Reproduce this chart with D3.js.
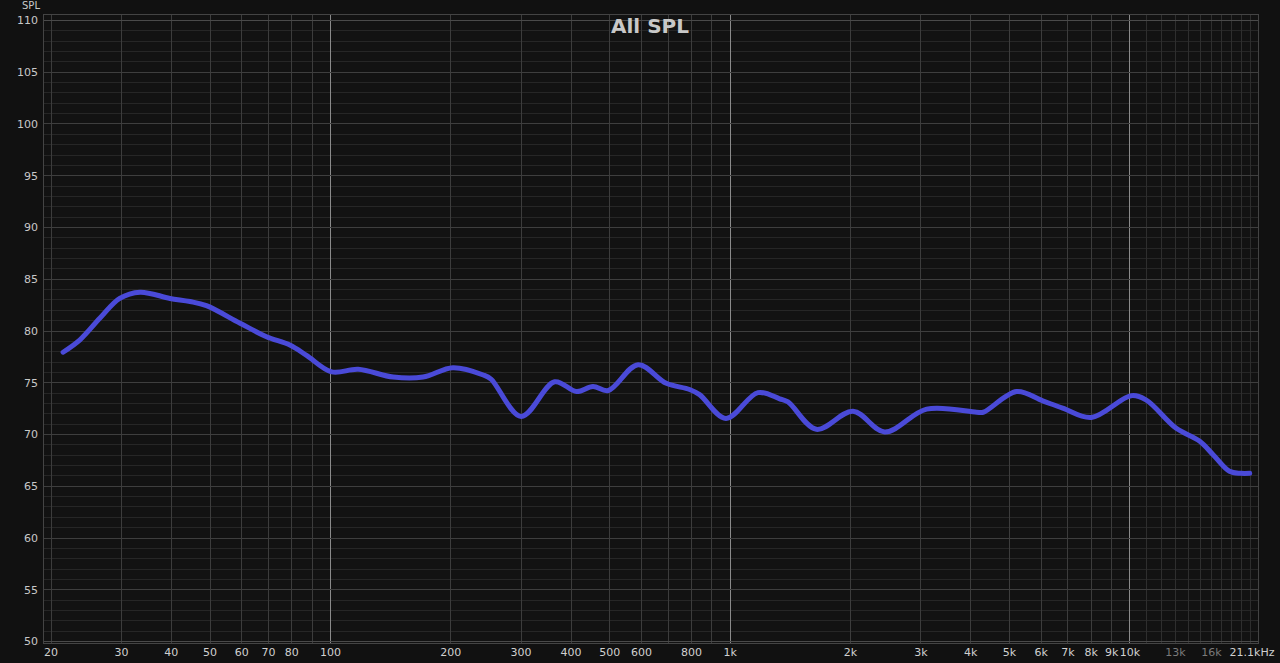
<!DOCTYPE html>
<html><head><meta charset="utf-8">
<script src="https://cdn.jsdelivr.net/npm/d3@7"></script>
<style>
html,body{margin:0;padding:0;background:#111111;}
svg{display:block;}
text{font-family:"DejaVu Sans","Open Sans",sans-serif;}
</style></head>
<body>
<script>
// Data
const freqs = [21.5, 23.7, 26.6, 29.8, 33.5, 39.8, 44.7, 49.1, 59.6, 69.4, 79.4, 87.4, 101, 117.7, 144, 171, 203, 242, 253, 301, 365, 414, 455, 497, 590, 694, 794, 841, 979, 1177, 1334, 1400, 1648, 2035, 2443, 3110, 4150, 4310, 5220, 6070, 6810, 8030, 10100, 11000, 13100, 15000, 16200, 17800, 19000, 20000];
const spl   = [77.9, 79.1, 81.2, 83.1, 83.7, 83.1, 82.8, 82.4, 80.7, 79.4, 78.6, 77.6, 76.0, 76.25, 75.5, 75.5, 76.4, 75.7, 75.3, 71.7, 75.05, 74.1, 74.6, 74.2, 76.7, 74.9, 74.3, 73.8, 71.5, 74.0, 73.4, 73.1, 70.45, 72.2, 70.2, 72.4, 72.1, 72.1, 74.1, 73.2, 72.5, 71.6, 73.7, 73.3, 70.55, 69.3, 68.0, 66.4, 66.2, 66.2];
const yTicks = [50, 55, 60, 65, 70, 75, 80, 85, 90, 95, 100, 105, 110];
const xTickVals = [20, 30, 40, 50, 60, 70, 80, 100, 200, 300, 400, 500, 600, 800, 1000, 2000, 3000, 4000, 5000, 6000, 7000, 8000, 9000, 10000, 13000, 16000, 21100];
const xTickText = ["20","30","40","50","60","70","80","100","200","300","400","500","600","800","1k","2k","3k","4k","5k","6k","7k","8k","9k","10k","13k","16k","21.1kHz"];
const dimTicks = ["13k","16k"];
const title = "All SPL";
const yUnit = "SPL";

const W = 1280, H = 663;
const plot = {l: 43, r: 1258, t: 14, b: 643};

const svg = d3.select("body").append("svg").attr("width", W).attr("height", H);
svg.append("rect").attr("width", W).attr("height", H).attr("fill", "#111111");

const x = d3.scaleLog().domain([20, 21100]).range([50.5, 1259]);
const y = d3.scaleLinear().domain([50, 110]).range([641, 20]);

const g = svg.append("g");
g.append("rect").attr("x", plot.l).attr("y", plot.t).attr("width", plot.r - plot.l).attr("height", plot.b - plot.t).attr("fill", "#121212");

// minor horizontal grid (1 dB)
const minorY = d3.range(50, 111, 1).filter(v => v % 5 !== 0);
g.selectAll(".hmin").data(minorY).enter().append("line")
  .attr("x1", plot.l).attr("x2", plot.r)
  .attr("y1", d => Math.round(y(d)) + 0.5).attr("y2", d => Math.round(y(d)) + 0.5)
  .attr("stroke", "#262626").attr("stroke-width", 1);

// vertical grid
const vLines = [];
for (let dec = 10; dec <= 10000; dec *= 10) {
  for (let m = 1; m <= 9; m++) {
    const f = dec * m;
    if (f >= 20 && f <= 21100) vLines.push(f);
  }
}
for (let f = 11000; f <= 21000; f += 1000) if (!vLines.includes(f)) vLines.push(f);
function vColor(f) {
  if (f === 100 || f === 1000 || f === 10000) return "#8a8a8a";
  if (f > 10000) return "#2e2e2e";
  return "#3c3c3c";
}
g.selectAll(".vg").data(vLines).enter().append("line")
  .attr("x1", d => Math.round(x(d)) + 0.5).attr("x2", d => Math.round(x(d)) + 0.5)
  .attr("y1", plot.t).attr("y2", plot.b)
  .attr("stroke", d => vColor(d)).attr("stroke-width", 1);

// major horizontal grid (5 dB)
g.selectAll(".hmaj").data(yTicks).enter().append("line")
  .attr("x1", plot.l).attr("x2", plot.r)
  .attr("y1", d => Math.round(y(d)) + 0.5).attr("y2", d => Math.round(y(d)) + 0.5)
  .attr("stroke", d => (d === 50 || d === 110) ? "#4a4a4a" : "#3e3e3e").attr("stroke-width", 1.2);

// plot border
g.append("rect").attr("x", plot.l + 0.5).attr("y", plot.t + 0.5)
  .attr("width", plot.r - plot.l).attr("height", plot.b - plot.t)
  .attr("fill", "none").attr("stroke", "#444").attr("stroke-width", 1);

// y axis labels
const yAxis = d3.axisLeft(y).tickValues(yTicks).tickSize(0).tickPadding(0);
const ya = svg.append("g").attr("transform", `translate(38,0)`).call(yAxis);
ya.select(".domain").remove();
ya.selectAll("text").attr("fill", "#c8c8c8").attr("font-size", 11).attr("dy", "0.35em");

svg.append("text").attr("x", 31).attr("y", 9).attr("text-anchor", "middle")
  .attr("fill", "#c8c8c8").attr("font-size", 10).text(yUnit);

// x axis labels
const xAxis = d3.axisBottom(x).tickValues(xTickVals).tickSize(0).tickPadding(0)
  .tickFormat((d, i) => xTickText[i]);
const xa = svg.append("g").attr("transform", `translate(0,648)`).call(xAxis);
xa.select(".domain").remove();
xa.selectAll("text").attr("font-size", 11).attr("dy", "0.71em")
  .attr("fill", (d, i) => dimTicks.includes(xTickText[i]) ? "#7a7a7a" : "#d0d0d0")
  .attr("text-anchor", (d, i) => xTickText[i] === "21.1kHz" ? "end" : "middle")
  .attr("x", (d, i) => xTickText[i] === "21.1kHz" ? 15 : 0);

// title
svg.append("text").attr("x", 650).attr("y", 33).attr("text-anchor", "middle")
  .attr("fill", "#c8c8c8").attr("font-size", 20).attr("font-weight", "bold").text(title);

// curve
const line = d3.line().x((d, i) => x(freqs[i])).y(d => y(d)).curve(d3.curveCatmullRom.alpha(0.5));
svg.append("path").datum(spl).attr("d", line)
  .attr("fill", "none").attr("stroke", "#4a4ad8").attr("stroke-width", 5)
  .attr("stroke-linecap", "round").attr("stroke-linejoin", "round");
</script>
</body></html>
